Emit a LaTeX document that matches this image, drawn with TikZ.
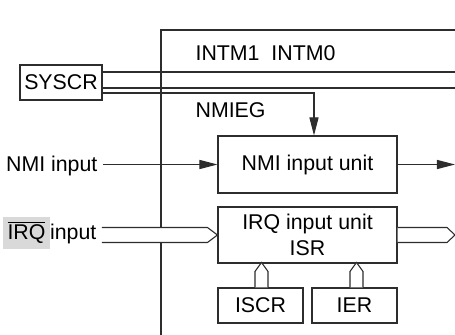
\documentclass[tikz,border=0pt]{standalone}
\usepackage{fontspec}
\setmainfont{Liberation Sans}
\usetikzlibrary{arrows.meta,calc}

\definecolor{linegray}{RGB}{45,45,45}
\definecolor{irqgray}{RGB}{217,217,217}

\newcommand\barsig[1]{\vbox{\hrule height 0.8pt \kern1.6pt\hbox{#1}}}

\tikzset{
  regbox/.style={draw=linegray, line width=0.8pt, inner sep=0pt, align=center,
    font=\fontsize{16}{19.5}\selectfont},
  lbl/.style={inner xsep=4pt, inner ysep=0pt, font=\fontsize{16}{18}\selectfont},
  sig/.style={draw=linegray, line width=0.8pt},
  arr/.style={sig, -{Triangle[length=13.5pt,width=6.8pt]}},
  bus/.style={sig, fill=white},
}

\begin{document}
\begin{tikzpicture}[x=0.75pt,y=0.75pt,yscale=-1,xscale=1]
\useasboundingbox (0,0) rectangle (455,335);

%module border
\draw [sig] (161,335) |- (455,30);

%registers and units
\node [regbox, minimum width=61.5pt, minimum height=26.25pt] (syscr) at (61,82.5) {SYSCR};
\node [regbox, minimum width=134.25pt, minimum height=42.75pt] (nmiunit) at (307.5,164.5) {NMI input unit};
\node [regbox, minimum width=134.25pt, minimum height=42pt] (irqunit) at (307.5,235) {IRQ input unit\\ISR};
\node [regbox, minimum width=63.75pt, minimum height=26.25pt] (iscr) at (260.5,305.5) {ISCR};
\node [regbox, minimum width=63.75pt, minimum height=26.25pt] (ier) at (354.5,305.5) {IER};

%labels
\node [lbl, anchor=west] (intm) at (190,53) {INTM1\ \ INTM0};
\node [lbl, anchor=west] (nmieg) at (190,110) {NMIEG};
\node [lbl, anchor=east] (nmiin) at (103,166) {NMI input};
\node [lbl, anchor=east] (irqin) at (102,233) {\setlength{\fboxsep}{3.5pt}\colorbox{irqgray}{\barsig{IRQ}\vphantom{Qp}}input};

%free ends
\coordinate (intmend1) at (455,72);
\coordinate (intmend2) at (455,88);
\coordinate (nmiout) at (455,164.5);
\coordinate (irqout) at (455,235);

%SYSCR bits
\draw [sig] ($(syscr.east)+(0,-10.5)$) -- (intmend1);
\draw [sig] ($(syscr.east)+(0,5.5)$) -- (intmend2);
\draw [arr] ($(syscr.east)+(0,10.5)$) -| ($(nmiunit.north)+(6.5,0)$);

%NMI path
\draw [arr] (nmiin.east |- nmiunit.west) -- (nmiunit.west);
\draw [arr] (nmiunit.east) -- (nmiout);

%IRQ buses
\draw [bus] ($(irqin.east |- irqunit.west)+(0,-7.5)$) -- ($(irqunit.west)+(-10,-7.5)$) -- (irqunit.west)
  -- ($(irqunit.west)+(-10,7.5)$) -- ($(irqin.east |- irqunit.west)+(0,7.5)$);
\draw [bus] ($(irqunit.east)+(0,-7.5)$) -- ($(irqout)+(-8,-7.5)$) -- (irqout)
  -- ($(irqout)+(-8,7.5)$) -- ($(irqunit.east)+(0,7.5)$);
\draw [bus] ($(iscr.north)+(-5.5,0)$) -- ($(iscr.north)+(-5.5,-16)$) -- ($(iscr.north)+(1,-25)$)
  -- ($(iscr.north)+(7.5,-16)$) -- ($(iscr.north)+(7.5,0)$);
\draw [bus] ($(ier.north)+(-4.5,0)$) -- ($(ier.north)+(-4.5,-16)$) -- ($(ier.north)+(2,-25)$)
  -- ($(ier.north)+(8.5,-16)$) -- ($(ier.north)+(8.5,0)$);

\end{tikzpicture}
\end{document}
